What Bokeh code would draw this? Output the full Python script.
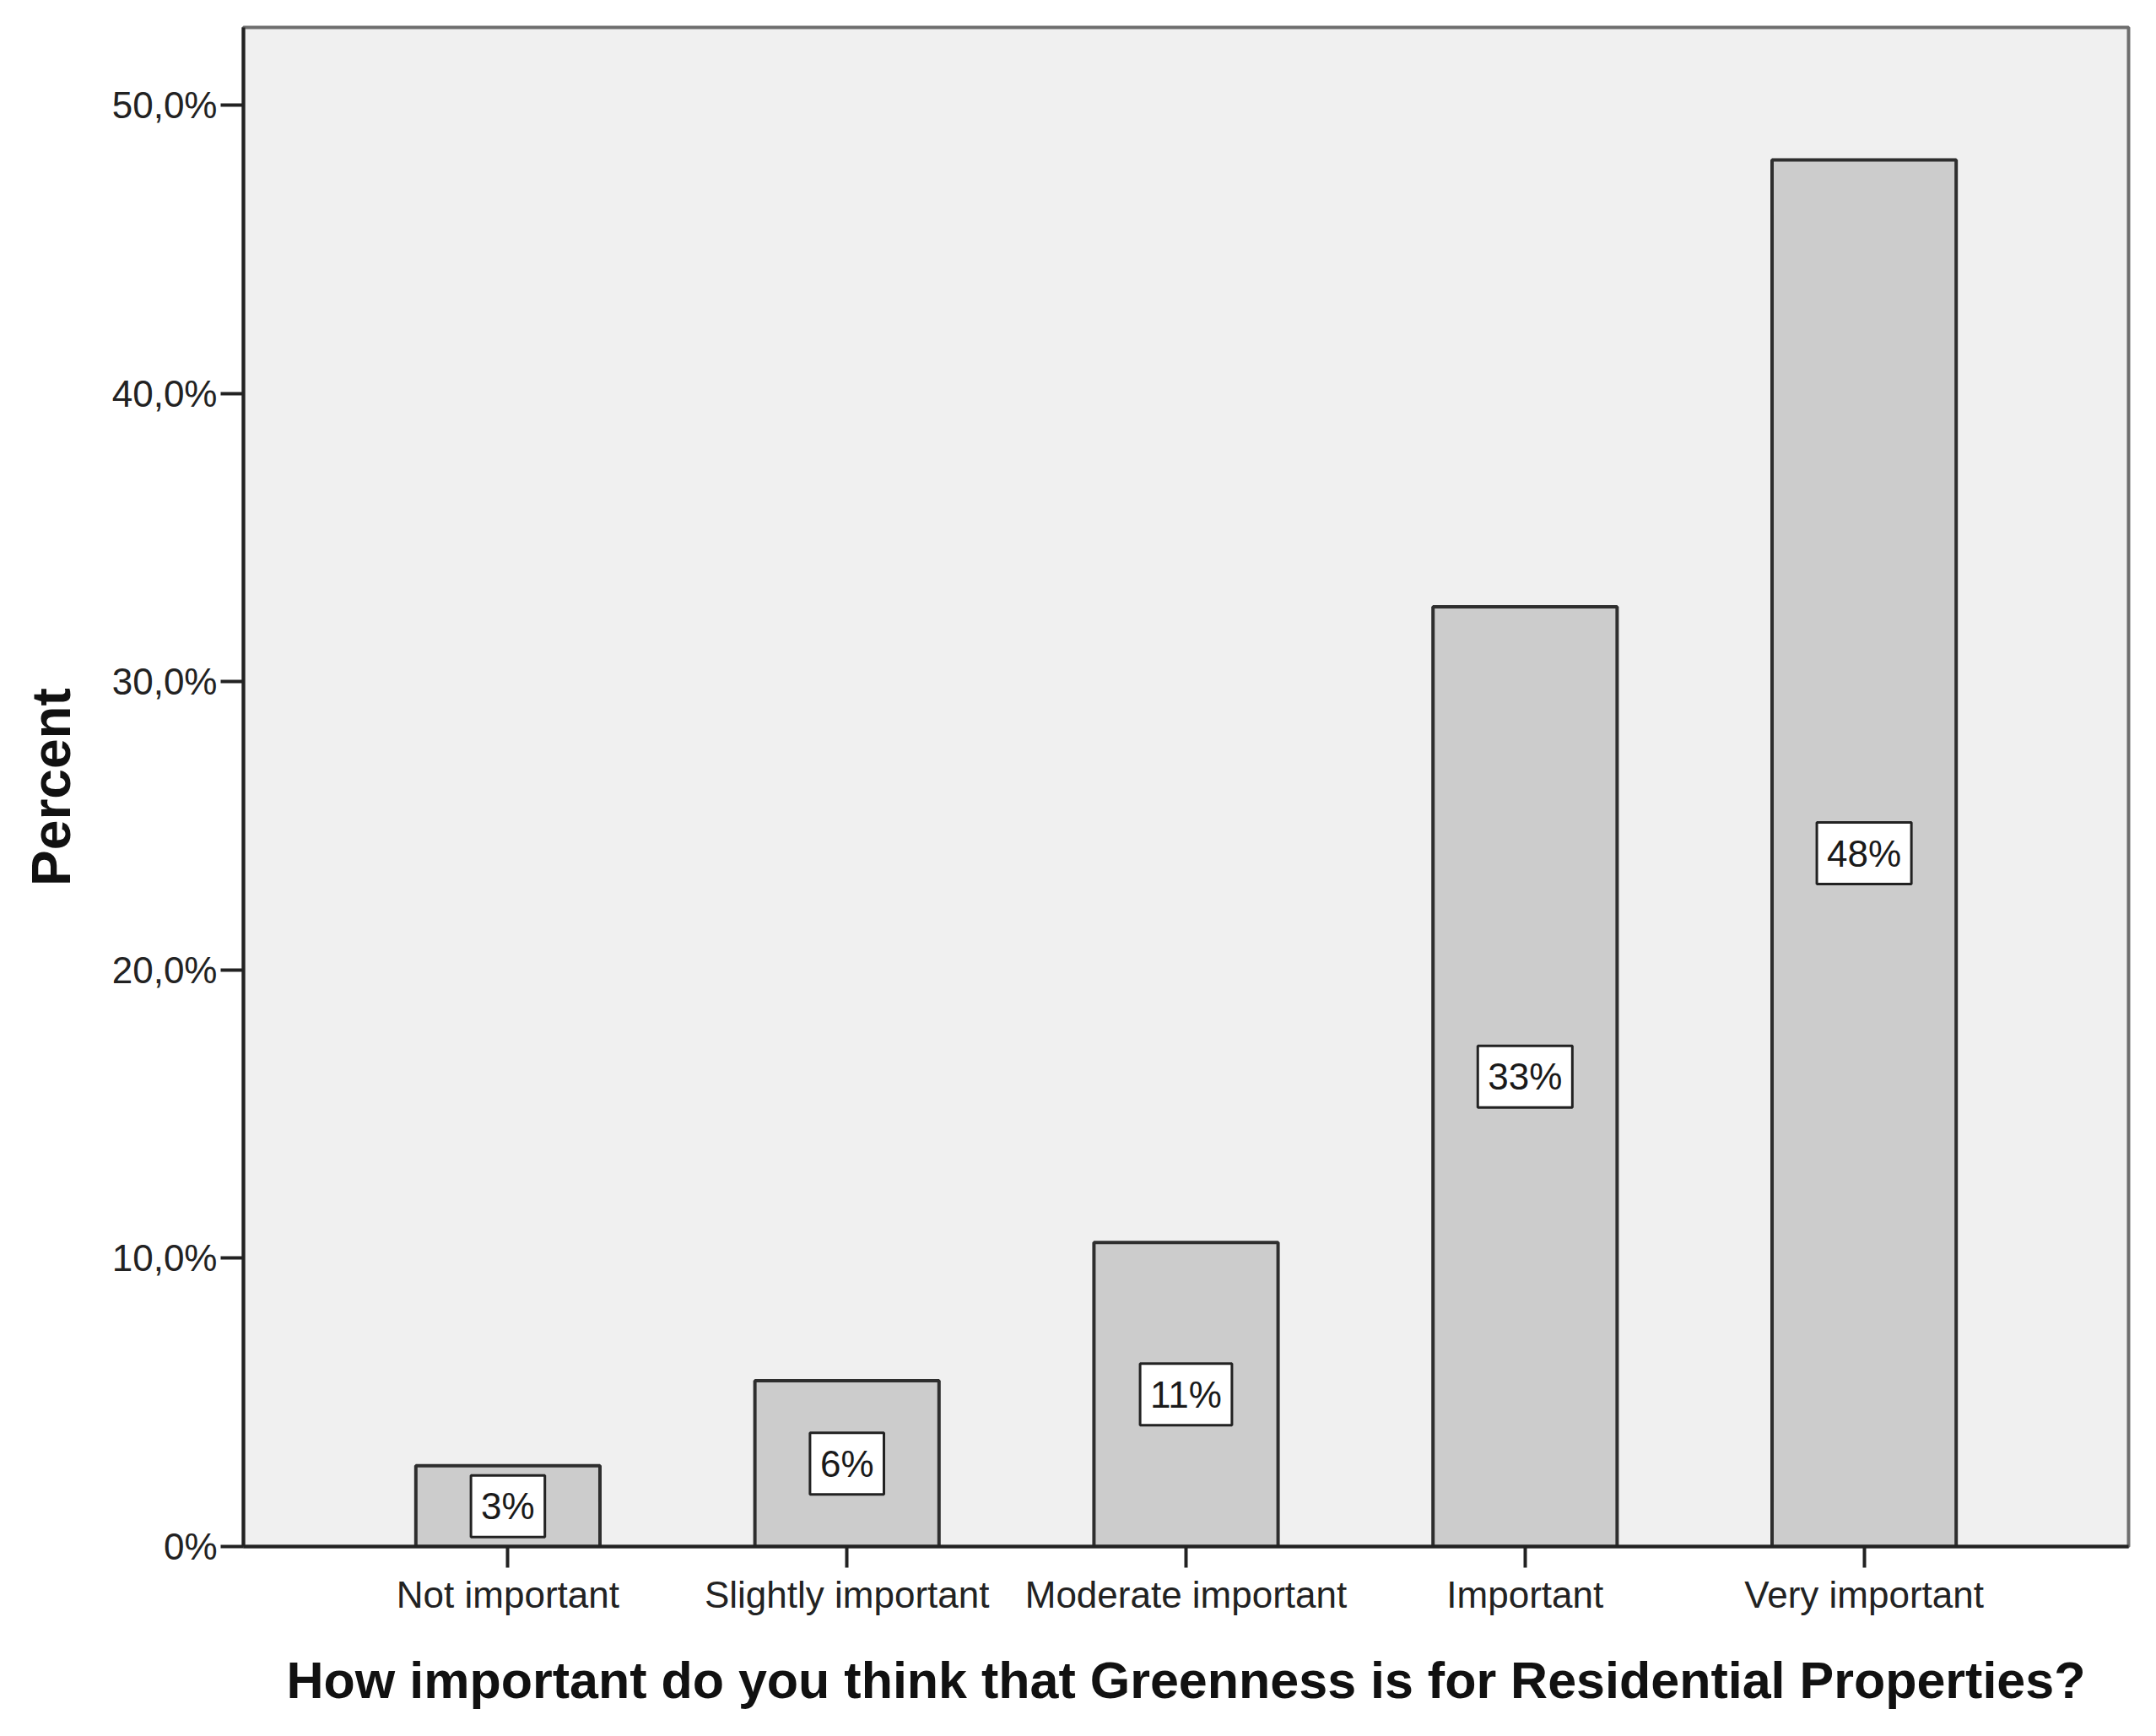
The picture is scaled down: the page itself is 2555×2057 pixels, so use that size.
from bokeh.plotting import figure
from bokeh.models import Range1d, FixedTicker, Label
from bokeh.embed import file_html
from bokeh.resources import INLINE

categories = ["Not important", "Slightly important", "Moderate important", "Important", "Very important"]
percents = [2.8, 5.75, 10.55, 32.6, 48.1]
bar_labels = ["3%", "6%", "11%", "33%", "48%"]
y_ticks = [0, 10, 20, 30, 40, 50]
y_tick_labels = ["0%", "10,0%", "20,0%", "30,0%", "40,0%", "50,0%"]
x_title = "How important do you think that Greenness is for Residential Properties?"
y_title = "Percent"

FONT = "Liberation Sans"
xs = list(range(len(categories)))

p = figure(width=2540, height=2040, output_backend="svg", toolbar_location=None,
           x_range=Range1d(-0.78, 4.78), y_range=Range1d(0, 52.7),
           min_border_left=288, min_border_right=18, min_border_top=32,
           min_border_bottom=208)
p.background_fill_color = "#f0f0f0"
p.border_fill_color = "white"
p.outline_line_color = "#6e6e6e"
p.outline_line_width = 4
p.xgrid.visible = False
p.ygrid.visible = False

p.vbar(x=xs, top=percents, bottom=0, width=0.543,
       fill_color="#cccccc", line_color="#2e2e2e", line_width=4)

for xi, v, t in zip(xs, percents, bar_labels):
    p.add_layout(Label(x=xi, y=v / 2, text=t, text_align="center", text_baseline="middle",
                       text_font=FONT, text_font_size="44px", text_color="#1a1a1a",
                       background_fill_color="white", border_line_color="#222222",
                       border_line_width=3, padding=12))

xa = p.xaxis[0]
ya = p.yaxis[0]
xa.ticker = FixedTicker(ticks=xs)
xa.major_label_overrides = {i: c for i, c in zip(xs, categories)}
ya.ticker = FixedTicker(ticks=y_ticks)
ya.major_label_overrides = {t: l for t, l in zip(y_ticks, y_tick_labels)}

for ax in (xa, ya):
    ax.axis_line_color = "#222222"
    ax.axis_line_width = 4
    ax.major_tick_line_color = "#222222"
    ax.major_tick_line_width = 4
    ax.major_tick_in = 0
    ax.minor_tick_line_color = None
    ax.major_label_text_font = FONT
    ax.major_label_text_font_size = "44px"
    ax.major_label_text_color = "#222222"
    ax.major_label_standoff = 4
    ax.axis_label_text_font = FONT
    ax.axis_label_text_font_style = "bold"
    ax.axis_label_text_color = "#111111"

xa.major_tick_out = 25
xa.major_label_standoff = 7
xa.axis_label = x_title
xa.axis_label_text_font_size = "61px"
xa.axis_label_standoff = 40

ya.major_tick_out = 27
ya.axis_label = y_title
ya.axis_label_text_font_size = "64px"
ya.axis_label_standoff = 33

open("out.html", "w").write(file_html(p, INLINE))
